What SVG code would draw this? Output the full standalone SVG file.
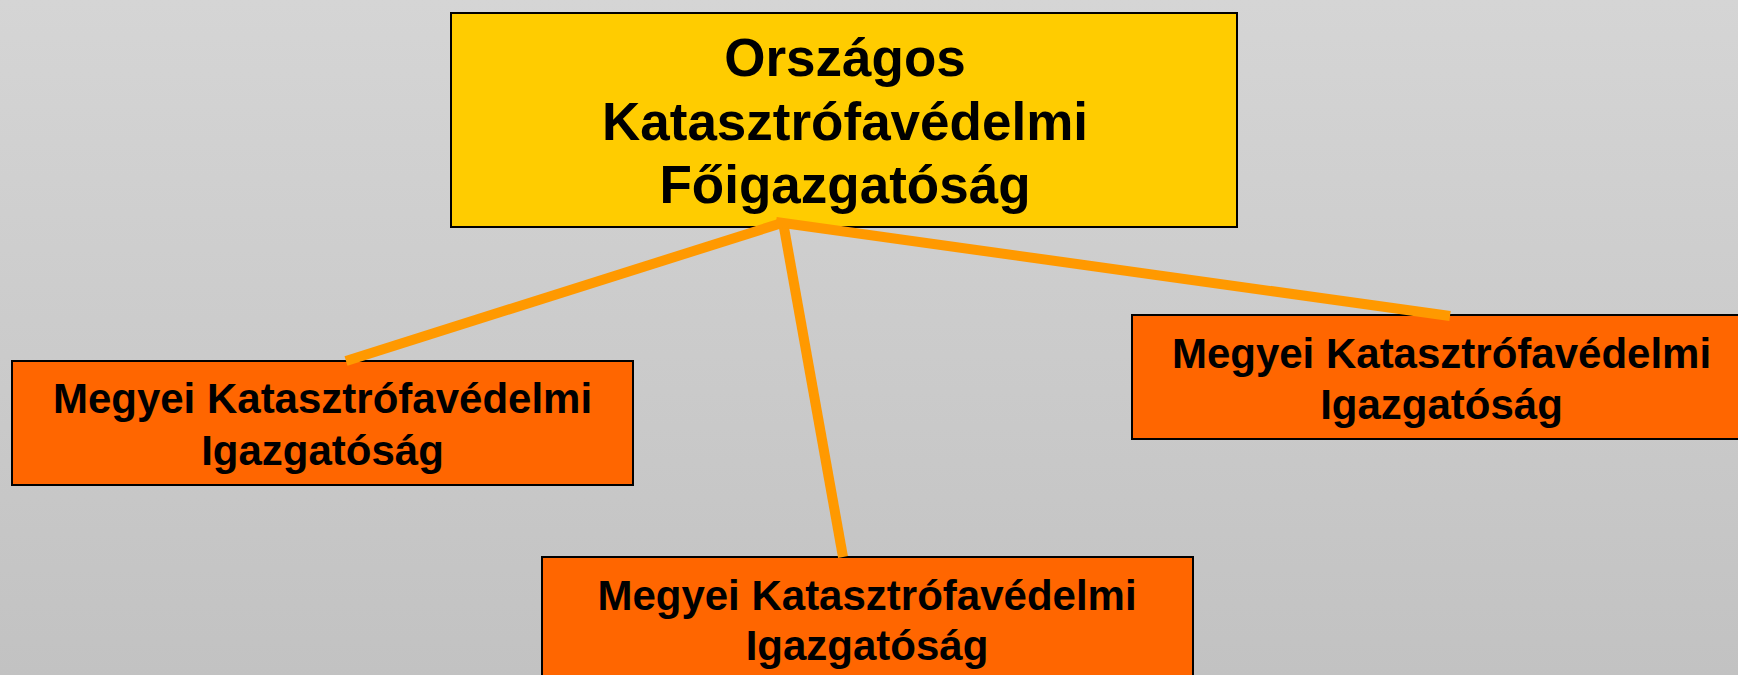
<svg xmlns="http://www.w3.org/2000/svg" width="1738" height="675" viewBox="0 0 1738 675">
<defs>
<linearGradient id="bg" x1="0" y1="0" x2="0" y2="1">
<stop offset="0" stop-color="#d5d5d5"/>
<stop offset="1" stop-color="#c2c2c2"/>
</linearGradient>
</defs>
<style>
.box{stroke:#000;stroke-width:2}
.main{fill:#ffcc00}
.sub{fill:#ff6600}
text{font-family:"Liberation Sans",Arial,sans-serif;font-weight:bold;fill:#000;text-anchor:middle}
.t1{font-size:53px}
.t2{font-size:42px}
.conn line{stroke:#ff9900;stroke-width:10;stroke-linecap:butt}
</style>
<rect width="1738" height="675" fill="url(#bg)"/>
<g id="node-main">
<rect class="box main" x="451" y="13" width="786" height="214"/>
<text class="t1" x="845" y="76">Országos</text>
<text class="t1" x="845" y="140">Katasztrófavédelmi</text>
<text class="t1" x="845" y="203">Főigazgatóság</text>
</g>
<g id="node-left">
<rect class="box sub" x="12" y="361" width="621" height="124"/>
<text class="t2" x="322.5" y="413">Megyei Katasztrófavédelmi</text>
<text class="t2" x="322.5" y="465">Igazgatóság</text>
</g>
<g id="node-right">
<rect class="box sub" x="1132" y="315" width="620" height="124"/>
<text class="t2" x="1441.5" y="368">Megyei Katasztrófavédelmi</text>
<text class="t2" x="1441.5" y="419">Igazgatóság</text>
</g>
<g id="node-bottom">
<rect class="box sub" x="542" y="557" width="651" height="130"/>
<text class="t2" x="867" y="610">Megyei Katasztrófavédelmi</text>
<text class="t2" x="867" y="660">Igazgatóság</text>
</g>
<g id="connectors" class="conn">
<line x1="782" y1="223" x2="346" y2="361"/>
<line x1="783" y1="222" x2="843" y2="557"/>
<line x1="776" y1="222" x2="1450" y2="316"/>
</g>
</svg>
